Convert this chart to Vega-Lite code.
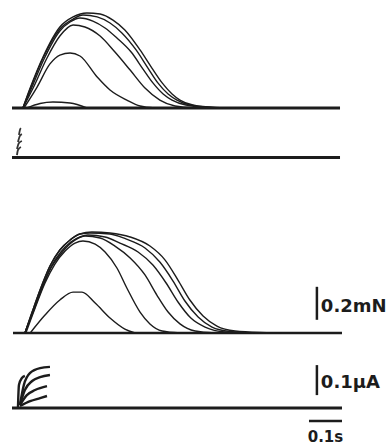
{
  "$schema": "https://vega.github.io/schema/vega-lite/v6.json",
  "padding": 0,
  "background": "white",
  "spacing": 0,
  "bounds": "flush",
  "config": {"view": {"stroke": null}},
  "datasets": {
    "forceTop": [
      {"trace": "A1", "t": 33, "F": 0}, {"trace": "A1", "t": 55, "F": 0.121}, {"trace": "A1", "t": 94, "F": 0.309}, {"trace": "A1", "t": 145, "F": 0.491}, {"trace": "A1", "t": 185, "F": 0.552}, {"trace": "A1", "t": 227, "F": 0.576}, {"trace": "A1", "t": 267, "F": 0.570}, {"trace": "A1", "t": 306, "F": 0.533}, {"trace": "A1", "t": 342, "F": 0.473}, {"trace": "A1", "t": 388, "F": 0.352}, {"trace": "A1", "t": 424, "F": 0.242}, {"trace": "A1", "t": 455, "F": 0.152}, {"trace": "A1", "t": 485, "F": 0.085}, {"trace": "A1", "t": 509, "F": 0.048}, {"trace": "A1", "t": 548, "F": 0.018}, {"trace": "A1", "t": 615, "F": 0.003}, {"trace": "A1", "t": 691, "F": 0},
      {"trace": "A2", "t": 33, "F": 0}, {"trace": "A2", "t": 55, "F": 0.115}, {"trace": "A2", "t": 94, "F": 0.303}, {"trace": "A2", "t": 145, "F": 0.479}, {"trace": "A2", "t": 185, "F": 0.539}, {"trace": "A2", "t": 215, "F": 0.564}, {"trace": "A2", "t": 258, "F": 0.552}, {"trace": "A2", "t": 297, "F": 0.515}, {"trace": "A2", "t": 333, "F": 0.455}, {"trace": "A2", "t": 376, "F": 0.352}, {"trace": "A2", "t": 412, "F": 0.242}, {"trace": "A2", "t": 442, "F": 0.152}, {"trace": "A2", "t": 473, "F": 0.085}, {"trace": "A2", "t": 500, "F": 0.048}, {"trace": "A2", "t": 539, "F": 0.018}, {"trace": "A2", "t": 606, "F": 0.003}, {"trace": "A2", "t": 676, "F": 0},
      {"trace": "A3", "t": 33, "F": 0}, {"trace": "A3", "t": 58, "F": 0.115}, {"trace": "A3", "t": 97, "F": 0.297}, {"trace": "A3", "t": 145, "F": 0.467}, {"trace": "A3", "t": 176, "F": 0.521}, {"trace": "A3", "t": 206, "F": 0.545}, {"trace": "A3", "t": 245, "F": 0.527}, {"trace": "A3", "t": 282, "F": 0.485}, {"trace": "A3", "t": 318, "F": 0.424}, {"trace": "A3", "t": 361, "F": 0.339}, {"trace": "A3", "t": 397, "F": 0.236}, {"trace": "A3", "t": 427, "F": 0.152}, {"trace": "A3", "t": 458, "F": 0.085}, {"trace": "A3", "t": 485, "F": 0.048}, {"trace": "A3", "t": 527, "F": 0.018}, {"trace": "A3", "t": 594, "F": 0.003}, {"trace": "A3", "t": 661, "F": 0},
      {"trace": "A4", "t": 33, "F": 0}, {"trace": "A4", "t": 64, "F": 0.121}, {"trace": "A4", "t": 106, "F": 0.303}, {"trace": "A4", "t": 145, "F": 0.436}, {"trace": "A4", "t": 185, "F": 0.503}, {"trace": "A4", "t": 221, "F": 0.491}, {"trace": "A4", "t": 267, "F": 0.436}, {"trace": "A4", "t": 312, "F": 0.339}, {"trace": "A4", "t": 358, "F": 0.230}, {"trace": "A4", "t": 403, "F": 0.121}, {"trace": "A4", "t": 448, "F": 0.048}, {"trace": "A4", "t": 494, "F": 0.012}, {"trace": "A4", "t": 555, "F": 0},
      {"trace": "A5", "t": 36, "F": 0}, {"trace": "A5", "t": 76, "F": 0.127}, {"trace": "A5", "t": 115, "F": 0.267}, {"trace": "A5", "t": 145, "F": 0.321}, {"trace": "A5", "t": 176, "F": 0.333}, {"trace": "A5", "t": 206, "F": 0.315}, {"trace": "A5", "t": 258, "F": 0.188}, {"trace": "A5", "t": 297, "F": 0.109}, {"trace": "A5", "t": 348, "F": 0.048}, {"trace": "A5", "t": 388, "F": 0.012}, {"trace": "A5", "t": 433, "F": 0},
      {"trace": "A6", "t": 45, "F": 0}, {"trace": "A6", "t": 85, "F": 0.027}, {"trace": "A6", "t": 124, "F": 0.036}, {"trace": "A6", "t": 176, "F": 0.030}, {"trace": "A6", "t": 227, "F": 0}
    ],
    "forceBottom": [
      {"trace": "C1", "t": 39, "F": 0}, {"trace": "C1", "t": 61, "F": 0.127}, {"trace": "C1", "t": 85, "F": 0.261}, {"trace": "C1", "t": 115, "F": 0.406}, {"trace": "C1", "t": 145, "F": 0.503}, {"trace": "C1", "t": 176, "F": 0.564}, {"trace": "C1", "t": 206, "F": 0.600}, {"trace": "C1", "t": 242, "F": 0.612}, {"trace": "C1", "t": 297, "F": 0.606}, {"trace": "C1", "t": 358, "F": 0.582}, {"trace": "C1", "t": 418, "F": 0.527}, {"trace": "C1", "t": 464, "F": 0.442}, {"trace": "C1", "t": 503, "F": 0.321}, {"trace": "C1", "t": 539, "F": 0.200}, {"trace": "C1", "t": 579, "F": 0.103}, {"trace": "C1", "t": 621, "F": 0.042}, {"trace": "C1", "t": 676, "F": 0.012}, {"trace": "C1", "t": 752, "F": 0.003}, {"trace": "C1", "t": 850, "F": 0},
      {"trace": "C2", "t": 39, "F": 0}, {"trace": "C2", "t": 61, "F": 0.127}, {"trace": "C2", "t": 85, "F": 0.261}, {"trace": "C2", "t": 115, "F": 0.406}, {"trace": "C2", "t": 145, "F": 0.503}, {"trace": "C2", "t": 176, "F": 0.564}, {"trace": "C2", "t": 206, "F": 0.600}, {"trace": "C2", "t": 236, "F": 0.606}, {"trace": "C2", "t": 297, "F": 0.600}, {"trace": "C2", "t": 345, "F": 0.570}, {"trace": "C2", "t": 403, "F": 0.515}, {"trace": "C2", "t": 448, "F": 0.430}, {"trace": "C2", "t": 488, "F": 0.315}, {"trace": "C2", "t": 524, "F": 0.194}, {"trace": "C2", "t": 564, "F": 0.097}, {"trace": "C2", "t": 606, "F": 0.036}, {"trace": "C2", "t": 661, "F": 0.009}, {"trace": "C2", "t": 736, "F": 0},
      {"trace": "C3", "t": 39, "F": 0}, {"trace": "C3", "t": 64, "F": 0.133}, {"trace": "C3", "t": 88, "F": 0.261}, {"trace": "C3", "t": 118, "F": 0.400}, {"trace": "C3", "t": 148, "F": 0.491}, {"trace": "C3", "t": 179, "F": 0.552}, {"trace": "C3", "t": 206, "F": 0.582}, {"trace": "C3", "t": 230, "F": 0.594}, {"trace": "C3", "t": 282, "F": 0.582}, {"trace": "C3", "t": 327, "F": 0.545}, {"trace": "C3", "t": 382, "F": 0.491}, {"trace": "C3", "t": 427, "F": 0.412}, {"trace": "C3", "t": 467, "F": 0.303}, {"trace": "C3", "t": 503, "F": 0.188}, {"trace": "C3", "t": 542, "F": 0.091}, {"trace": "C3", "t": 585, "F": 0.036}, {"trace": "C3", "t": 645, "F": 0.006}, {"trace": "C3", "t": 721, "F": 0},
      {"trace": "C4", "t": 39, "F": 0}, {"trace": "C4", "t": 64, "F": 0.127}, {"trace": "C4", "t": 88, "F": 0.255}, {"trace": "C4", "t": 118, "F": 0.394}, {"trace": "C4", "t": 148, "F": 0.479}, {"trace": "C4", "t": 179, "F": 0.545}, {"trace": "C4", "t": 221, "F": 0.588}, {"trace": "C4", "t": 267, "F": 0.576}, {"trace": "C4", "t": 312, "F": 0.527}, {"trace": "C4", "t": 358, "F": 0.455}, {"trace": "C4", "t": 403, "F": 0.352}, {"trace": "C4", "t": 439, "F": 0.230}, {"trace": "C4", "t": 473, "F": 0.127}, {"trace": "C4", "t": 509, "F": 0.055}, {"trace": "C4", "t": 555, "F": 0.012}, {"trace": "C4", "t": 615, "F": 0},
      {"trace": "C5", "t": 42, "F": 0}, {"trace": "C5", "t": 70, "F": 0.152}, {"trace": "C5", "t": 100, "F": 0.303}, {"trace": "C5", "t": 130, "F": 0.418}, {"trace": "C5", "t": 161, "F": 0.497}, {"trace": "C5", "t": 191, "F": 0.545}, {"trace": "C5", "t": 215, "F": 0.558}, {"trace": "C5", "t": 252, "F": 0.539}, {"trace": "C5", "t": 282, "F": 0.491}, {"trace": "C5", "t": 318, "F": 0.394}, {"trace": "C5", "t": 348, "F": 0.273}, {"trace": "C5", "t": 388, "F": 0.127}, {"trace": "C5", "t": 418, "F": 0.055}, {"trace": "C5", "t": 455, "F": 0.012}, {"trace": "C5", "t": 509, "F": 0},
      {"trace": "C6", "t": 55, "F": 0}, {"trace": "C6", "t": 100, "F": 0.109}, {"trace": "C6", "t": 145, "F": 0.200}, {"trace": "C6", "t": 185, "F": 0.248}, {"trace": "C6", "t": 212, "F": 0.248}, {"trace": "C6", "t": 252, "F": 0.182}, {"trace": "C6", "t": 297, "F": 0.091}, {"trace": "C6", "t": 342, "F": 0.024}, {"trace": "C6", "t": 373, "F": 0}
    ],
    "currentTop": [
      {"trace": "b1", "t": 15, "I": 0.008}, {"trace": "b1", "t": 18, "I": 0.025}, {"trace": "b1", "t": 27, "I": 0.035},
      {"trace": "b2", "t": 15, "I": 0.028}, {"trace": "b2", "t": 21, "I": 0.048}, {"trace": "b2", "t": 30, "I": 0.055},
      {"trace": "b3", "t": 18, "I": 0.052}, {"trace": "b3", "t": 24, "I": 0.072}, {"trace": "b3", "t": 30, "I": 0.078},
      {"trace": "b4", "t": 21, "I": 0.075}, {"trace": "b4", "t": 24, "I": 0.092}, {"trace": "b4", "t": 27, "I": 0.098}
    ],
    "currentBottom": [
      {"trace": "d0", "t": 18, "I": 0}, {"trace": "d0", "t": 21, "I": 0.077}, {"trace": "d0", "t": 30, "I": 0.100}, {"trace": "d0", "t": 39, "I": 0.107},
      {"trace": "d1", "t": 24, "I": 0.010}, {"trace": "d1", "t": 36, "I": 0.077}, {"trace": "d1", "t": 55, "I": 0.117}, {"trace": "d1", "t": 85, "I": 0.133}, {"trace": "d1", "t": 115, "I": 0.137},
      {"trace": "d2", "t": 24, "I": 0.010}, {"trace": "d2", "t": 39, "I": 0.060}, {"trace": "d2", "t": 61, "I": 0.090}, {"trace": "d2", "t": 85, "I": 0.103}, {"trace": "d2", "t": 115, "I": 0.110},
      {"trace": "d3", "t": 24, "I": 0.010}, {"trace": "d3", "t": 45, "I": 0.043}, {"trace": "d3", "t": 70, "I": 0.060}, {"trace": "d3", "t": 106, "I": 0.073},
      {"trace": "d4", "t": 24, "I": 0.007}, {"trace": "d4", "t": 55, "I": 0.023}, {"trace": "d4", "t": 85, "I": 0.033}, {"trace": "d4", "t": 106, "I": 0.040}
    ]
  },
  "vconcat": [
    {
      "width": 390, "height": 118,
      "layer": [
        {
          "data": {"values": [{"t": 0, "F": 0}, {"t": 994, "F": 0}]},
          "mark": {"type": "line", "color": "#1c1c1c", "strokeWidth": 3},
          "encoding": {
            "x": {"field": "t", "type": "quantitative", "scale": {"domain": [-36.4, 1145.5], "nice": false, "zero": false}, "axis": null},
            "y": {"field": "F", "type": "quantitative", "scale": {"domain": [-0.0606, 0.6545], "nice": false, "zero": false}, "axis": null}
          }
        },
        {
          "data": {"name": "forceTop"},
          "mark": {"type": "line", "color": "#1c1c1c", "strokeWidth": 1.4, "interpolate": "monotone"},
          "encoding": {
            "x": {"field": "t", "type": "quantitative"},
            "y": {"field": "F", "type": "quantitative"},
            "detail": {"field": "trace"}
          }
        }
      ]
    },
    {
      "width": 390, "height": 52,
      "layer": [
        {
          "data": {"values": [{"t": 0, "I": 0}, {"t": 994, "I": 0}]},
          "mark": {"type": "line", "color": "#1c1c1c", "strokeWidth": 3},
          "encoding": {
            "x": {"field": "t", "type": "quantitative", "scale": {"domain": [-36.4, 1145.5], "nice": false, "zero": false}, "axis": null},
            "y": {"field": "I", "type": "quantitative", "scale": {"domain": [-0.0417, 0.1317], "nice": false, "zero": false}, "axis": null}
          }
        },
        {
          "data": {"name": "currentTop"},
          "mark": {"type": "line", "color": "#333333", "strokeWidth": 1.8, "interpolate": "monotone"},
          "encoding": {
            "x": {"field": "t", "type": "quantitative"},
            "y": {"field": "I", "type": "quantitative"},
            "detail": {"field": "trace"}
          }
        }
      ]
    },
    {
      "width": 390, "height": 175,
      "layer": [
        {
          "data": {"values": [{"t": 3, "F": 0}, {"t": 1000, "F": 0}]},
          "mark": {"type": "line", "color": "#1c1c1c", "strokeWidth": 2.6},
          "encoding": {
            "x": {"field": "t", "type": "quantitative", "scale": {"domain": [-36.4, 1145.5], "nice": false, "zero": false}, "axis": null},
            "y": {"field": "F", "type": "quantitative", "scale": {"domain": [-0.0727, 0.9879], "nice": false, "zero": false}, "axis": null}
          }
        },
        {
          "data": {"name": "forceBottom"},
          "mark": {"type": "line", "color": "#1c1c1c", "strokeWidth": 1.4, "interpolate": "monotone"},
          "encoding": {
            "x": {"field": "t", "type": "quantitative"},
            "y": {"field": "F", "type": "quantitative"},
            "detail": {"field": "trace"}
          }
        },
        {
          "data": {"values": [{"t": 924, "F1": 0.08, "F2": 0.28}]},
          "mark": {"type": "rule", "color": "#1c1c1c", "strokeWidth": 2.5},
          "encoding": {
            "x": {"field": "t", "type": "quantitative"},
            "y": {"field": "F1", "type": "quantitative"},
            "y2": {"field": "F2"}
          }
        },
        {
          "data": {"values": [{"label": "0.2mN", "t": 936, "F": 0.16}]},
          "mark": {"type": "text", "align": "left", "baseline": "middle", "font": "DejaVu Sans", "fontWeight": "bold", "fontSize": 18, "color": "#1c1c1c"},
          "encoding": {
            "x": {"field": "t", "type": "quantitative"},
            "y": {"field": "F", "type": "quantitative"},
            "text": {"field": "label"}
          }
        }
      ]
    },
    {
      "width": 390, "height": 100,
      "layer": [
        {
          "data": {"values": [{"t": 0, "I": 0}, {"t": 1000, "I": 0}]},
          "mark": {"type": "line", "color": "#1c1c1c", "strokeWidth": 2.8},
          "encoding": {
            "x": {"field": "t", "type": "quantitative", "scale": {"domain": [-36.4, 1145.5], "nice": false, "zero": false}, "axis": null},
            "y": {"field": "I", "type": "quantitative", "scale": {"domain": [-0.1233, 0.21], "nice": false, "zero": false}, "axis": null}
          }
        },
        {
          "data": {"name": "currentBottom"},
          "mark": {"type": "line", "color": "#1c1c1c", "strokeWidth": 2.4, "interpolate": "monotone"},
          "encoding": {
            "x": {"field": "t", "type": "quantitative"},
            "y": {"field": "I", "type": "quantitative"},
            "detail": {"field": "trace"}
          }
        },
        {
          "data": {"values": [{"t1": 924, "t2": 924, "I1": 0.043, "I2": 0.143}, {"t1": 900, "t2": 1000, "I1": -0.043, "I2": -0.043}]},
          "mark": {"type": "rule", "color": "#1c1c1c", "strokeWidth": 2.5},
          "encoding": {
            "x": {"field": "t1", "type": "quantitative"},
            "x2": {"field": "t2"},
            "y": {"field": "I1", "type": "quantitative"},
            "y2": {"field": "I2"}
          }
        },
        {
          "data": {"values": [{"label": "0.1µA", "t": 936, "I": 0.083}]},
          "mark": {"type": "text", "align": "left", "baseline": "middle", "font": "DejaVu Sans", "fontWeight": "bold", "fontSize": 18, "color": "#1c1c1c"},
          "encoding": {
            "x": {"field": "t", "type": "quantitative"},
            "y": {"field": "I", "type": "quantitative"},
            "text": {"field": "label"}
          }
        },
        {
          "data": {"values": [{"label": "0.1s", "t": 950, "I": -0.097}]},
          "mark": {"type": "text", "align": "center", "baseline": "middle", "font": "DejaVu Sans", "fontWeight": "bold", "fontSize": 15, "color": "#1c1c1c"},
          "encoding": {
            "x": {"field": "t", "type": "quantitative"},
            "y": {"field": "I", "type": "quantitative"},
            "text": {"field": "label"}
          }
        }
      ]
    }
  ]
}
